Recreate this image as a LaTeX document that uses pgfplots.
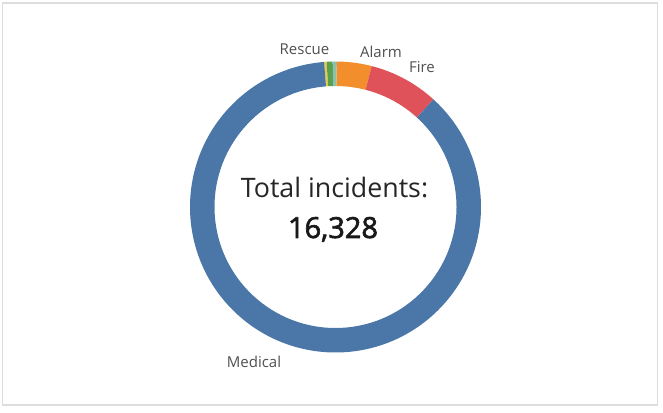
\documentclass[border=0pt]{standalone}
\usepackage{fontspec}
\setmainfont{Open Sans}
\newfontfamily\numfont[FakeBold=2.2]{Open Sans}
\usepackage{pgfplots}
\usepackage{pgfplotstable}
\pgfplotsset{compat=1.18}

\definecolor{cMedical}{HTML}{4A76A8}
\definecolor{cFire}{HTML}{E0525A}
\definecolor{cAlarm}{HTML}{F28E2B}
\definecolor{cRescue}{HTML}{59A14F}
\definecolor{cOther}{HTML}{EDC948}
\definecolor{cUnknown}{HTML}{8CC0A8}
\definecolor{labelgray}{HTML}{505050}
\definecolor{framegray}{HTML}{DDDDDD}

% incidents by type, clockwise from 12 o'clock
\pgfplotstableread[col sep=comma]{
type,value,color
Other,45,cOther
Rescue,109,cRescue
Unknown,73,cUnknown
Alarm,630,cAlarm
Fire,1265,cFire
Medical,14206,cMedical
}\incidents

\pgfplotstablegetrowsof{\incidents}
\pgfmathtruncatemacro\nrows{\pgfplotsretval-1}

% ring geometry (px of the 663x412 picture)
\def\cx{335.5}
\def\cy{205}
\def\Ro{145.5}
\def\Ri{121}
\def\startang{94.5}

\begin{document}
\begin{tikzpicture}
\begin{axis}[
    x=1pt, y=1pt,
    xmin=0, xmax=663,
    ymin=0, ymax=412,
    hide axis,
    clip=false,
]
\path (axis cs:0,0) rectangle (axis cs:663,412);
\draw[framegray, line width=1.2pt] (axis cs:2.5,7) rectangle (axis cs:657.5,409);

% total
\pgfmathsetmacro\total{0}
\pgfplotsforeachungrouped \i in {0,...,\nrows}{%
  \pgfplotstablegetelem{\i}{value}\of\incidents
  \pgfmathsetmacro\total{\total+\pgfplotsretval}%
}

% sectors
\pgfmathsetmacro\cum{0}
\pgfplotsforeachungrouped \i in {0,...,\nrows}{%
  \pgfplotstablegetelem{\i}{value}\of\incidents
  \let\segval\pgfplotsretval
  \pgfplotstablegetelem{\i}{color}\of\incidents
  \let\segcolor\pgfplotsretval
  \pgfmathsetmacro\angA{\startang-360*(\cum/\total)}%
  \pgfmathsetmacro\cum{\cum+\segval}%
  \pgfmathsetmacro\angB{\startang-360*(\cum/\total)}%
  \edef\temp{\noexpand\fill[\segcolor]
    (axis cs:{\cx+\Ro*cos(\angA)},{\cy+\Ro*sin(\angA)})
    arc[start angle=\angA, end angle=\angB, radius=\Ro pt]
    -- (axis cs:{\cx+\Ri*cos(\angB)},{\cy+\Ri*sin(\angB)})
    arc[start angle=\angB, end angle=\angA, radius=\Ri pt] -- cycle;}%
  \temp
}

% labels
\node[anchor=base, text=labelgray, font=\fontsize{15}{18}\selectfont] at (axis cs:304.5,357) {Rescue};
\node[anchor=base, text=labelgray, font=\fontsize{15}{18}\selectfont] at (axis cs:381,354) {Alarm};
\node[anchor=base, text=labelgray, font=\fontsize{15}{18}\selectfont] at (axis cs:422,339) {Fire};
\node[anchor=base, text=labelgray, font=\fontsize{15}{18}\selectfont] at (axis cs:254,45) {Medical};

\node[anchor=base, text=black!85, font=\fontsize{26.8}{30}\selectfont] at (axis cs:334.5,214) {Total incidents:};
\node[anchor=base, text=black!90, font=\fontsize{29}{32}\numfont] at (axis cs:333,174) {16,328};
\end{axis}
\end{tikzpicture}
\end{document}
